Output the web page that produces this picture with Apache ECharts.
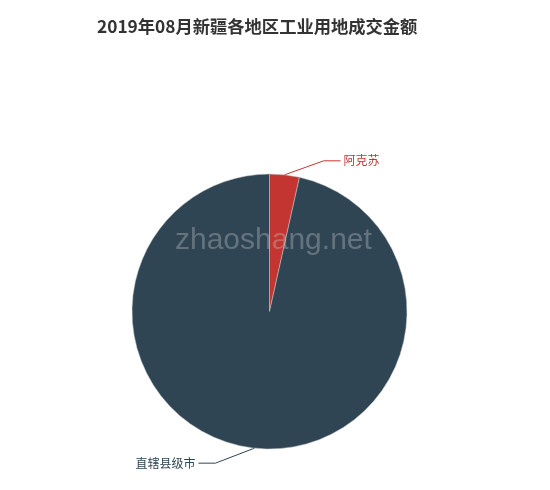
<!DOCTYPE html>
<html><head><meta charset="utf-8">
<script src="https://cdn.jsdelivr.net/npm/echarts@6/dist/echarts.min.js"></script>
<style>html,body{margin:0;padding:0;background:#fff}#c{width:550px;height:490px}</style>
</head><body><div id="c"></div>
<script>
var titleText = '2019年08月新疆各地区工业用地成交金额';
var categories = ['阿克苏', '直辖县级市'];
var values = [3.5, 96.5];
var colors = ['#c23531', '#2f4554'];

var chart = echarts.init(document.getElementById('c'));
chart.setOption({
  animation: false,
  title: {
    text: titleText, left: 92, top: 13,
    textStyle: {fontSize: 17.3, fontWeight: 'bold', color: '#333', fontFamily: 'Noto Sans CJK SC'}
  },
  color: colors,
  series: [{
    type: 'pie',
    center: [269.5, 311.5],
    radius: 137.5,
    clockwise: true,
    startAngle: 90,
    data: categories.map(function (c, i) {
      return {name: c, value: values[i],
        label: {color: colors[i]}, labelLine: {lineStyle: {color: colors[i]}}};
    }),
    itemStyle: {borderColor: '#ccc', borderWidth: 0.5},
    label: {fontSize: 12, fontFamily: 'Noto Sans CJK SC'},
    labelLine: {length: 18, length2: 14, lineStyle: {width: 1}},
    labelLayout: function (p) {
      var a = p.labelLinePoints ? p.labelLinePoints[0] : null;
      if (!a) return {};
      var right = a[0] >= 269.5;
      var sx = right ? 1 : -1;
      var mid = [a[0] + sx * 39, a[1] + (right ? -14 : 15)];
      var end = [mid[0] + sx * 17, mid[1]];
      return {
        x: end[0] + sx * 3, y: end[1],
        align: right ? 'left' : 'right', verticalAlign: 'middle',
        labelLinePoints: [a, mid, end]
      };
    }
  }],
  graphic: [{
    type: 'text', z: 100,
    left: 175, top: 226,
    style: {text: 'zhaoshang.net', font: '30px "Liberation Sans", Arial, sans-serif', fill: 'rgba(200,200,200,0.35)'}
  }]
});
</script></body></html>
